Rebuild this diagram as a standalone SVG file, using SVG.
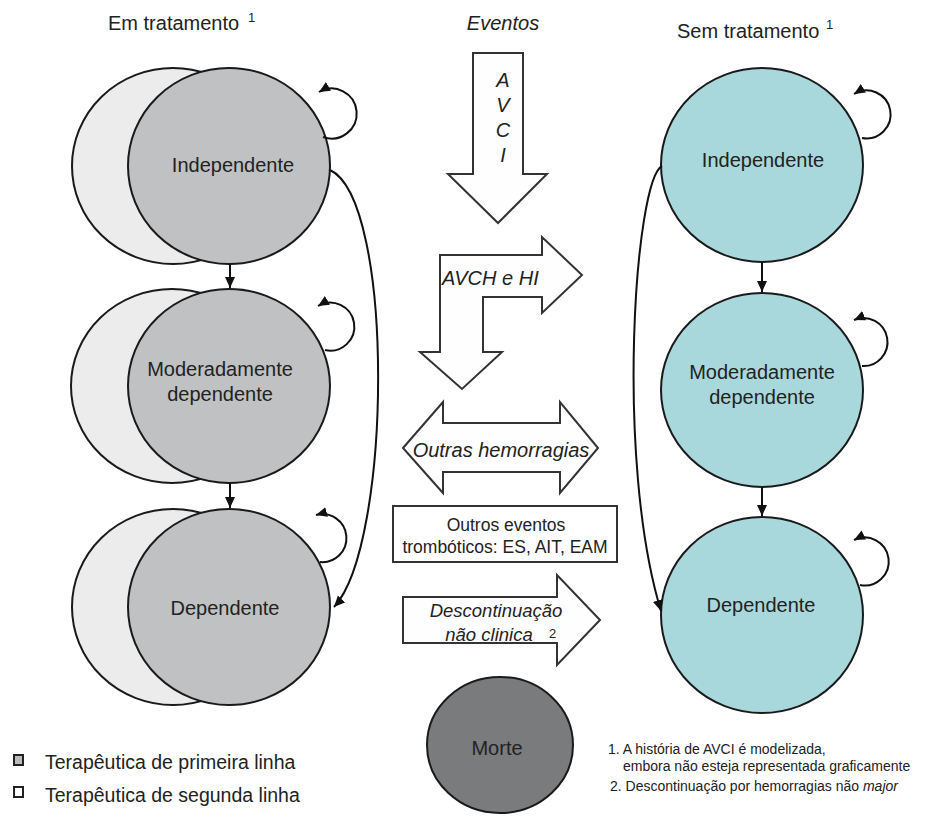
<svg xmlns="http://www.w3.org/2000/svg" width="943" height="822" viewBox="0 0 943 822">
<style>
.t{font-family:"Liberation Sans",Arial,sans-serif;fill:#222;font-size:20px}
.i{font-style:italic}
.c{text-anchor:middle}
.back{fill:#ececec;stroke:#1a1a1a;stroke-width:2}
.front{fill:#c0c1c3;stroke:#1a1a1a;stroke-width:2}
.teal{fill:#a9d8dc;stroke:#1a1a1a;stroke-width:2}
.big{fill:#fefefe;stroke:#333;stroke-width:2;stroke-linejoin:miter}
.con{fill:none;stroke:#111;stroke-width:2}
</style>
<defs>
<marker id="ah" markerUnits="userSpaceOnUse" markerWidth="12" markerHeight="12" viewBox="0 0 12 12" refX="11" refY="6" orient="auto">
<path d="M0,1 L11,6 L0,11 Z" fill="#111"/>
</marker>
</defs>
<rect width="943" height="822" fill="#fff"/>

<text class="t" x="108" y="30">Em tratamento</text>
<text class="t" x="248" y="22" style="font-size:13px">1</text>
<text class="t i c" x="503" y="30">Eventos</text>
<text class="t" x="677" y="38">Sem tratamento</text>
<text class="t" x="826" y="29" style="font-size:13px">1</text>

<g id="left-independente">
<ellipse class="back" cx="173" cy="166" rx="101" ry="98"/>
<ellipse class="front" cx="229" cy="166" rx="101" ry="98"/>
<text class="t c" x="233" y="172">Independente</text>
</g>
<g id="left-moderadamente">
<ellipse class="back" cx="172" cy="386" rx="101" ry="97"/>
<ellipse class="front" cx="229" cy="386" rx="101" ry="97"/>
<text class="t c" x="220" y="376">Moderadamente</text>
<text class="t c" x="220" y="401">dependente</text>
</g>
<g id="left-dependente">
<ellipse class="back" cx="173" cy="607" rx="101" ry="98"/>
<ellipse class="front" cx="229" cy="607" rx="101" ry="98"/>
<text class="t c" x="225" y="615">Dependente</text>
</g>

<g id="right-independente">
<ellipse class="teal" cx="762" cy="165" rx="101" ry="97"/>
<text class="t c" x="763" y="167">Independente</text>
</g>
<g id="right-moderadamente">
<ellipse class="teal" cx="762" cy="390" rx="101" ry="97"/>
<text class="t c" x="762" y="379">Moderadamente</text>
<text class="t c" x="762" y="404">dependente</text>
</g>
<g id="right-dependente">
<ellipse class="teal" cx="762" cy="615" rx="101" ry="98"/>
<text class="t c" x="761" y="612">Dependente</text>
</g>

<g id="evt-avci">
<polygon class="big" points="473,53 523,53 523,174 547,174 498,223 448,174 473,174"/>
<text class="t i c" x="503" y="87">A</text>
<text class="t i c" x="503" y="112">V</text>
<text class="t i c" x="503" y="137">C</text>
<text class="t i c" x="503" y="162">I</text>
</g>
<g id="evt-avch">
<polygon class="big" points="440,255 542,255 542,237 582,275 542,313 542,297 483,297 483,352 502,352 462,389 420,352 440,352"/>
<text class="t i" x="442" y="285">AVCH e HI</text>
</g>
<g id="evt-hemorragias">
<polygon class="big" points="403,448 443,402 443,423 560,423 560,402 598,448 560,493 560,472 443,472 443,493"/>
<text class="t i c" x="501" y="457">Outras hemorragias</text>
</g>
<g id="evt-tromboticos">
<rect x="393" y="506" width="224" height="56" fill="#fff" stroke="#333" stroke-width="2"/>
<text class="t c" x="506" y="531" style="font-size:17.5px">Outros eventos</text>
<text class="t c" x="505" y="553" style="font-size:17.5px">trombóticos: ES, AIT, EAM</text>
</g>
<g id="evt-descontinuacao">
<polygon class="big" points="403,597 557,597 557,575 600,620 557,665 557,643 403,643"/>
<text class="t i c" x="496" y="617" style="font-size:18.5px">Descontinuação</text>
<text class="t i c" x="489" y="641" style="font-size:18.5px">não clinica</text>
<text class="t" x="549" y="638" style="font-size:13px">2</text>
</g>
<g id="morte">
<ellipse cx="500" cy="745" rx="73" ry="68" fill="#7a7b7d" stroke="#1a1a1a" stroke-width="2"/>
<text class="t c" x="497" y="755">Morte</text>
</g>

<g id="connectors">
<line class="con" x1="230" y1="264" x2="230" y2="288" marker-end="url(#ah)"/>
<line class="con" x1="230" y1="483" x2="230" y2="508" marker-end="url(#ah)"/>
<path class="con" d="M 323 137 A 25 25 0 1 0 319 92" marker-end="url(#ah)"/>
<path class="con" d="M 325 350 A 24 24 0 1 0 318 306" marker-end="url(#ah)"/>
<path class="con" d="M 320 562 A 24 24 0 1 0 316 515" marker-end="url(#ah)"/>
<path class="con" d="M 330 170 C 395 200, 392 545, 334 607" marker-end="url(#ah)"/>
<line class="con" x1="762" y1="262" x2="762" y2="292" marker-end="url(#ah)"/>
<line class="con" x1="762" y1="487" x2="762" y2="516" marker-end="url(#ah)"/>
<path class="con" d="M 862 138 A 24 24 0 1 0 854 94" marker-end="url(#ah)"/>
<path class="con" d="M 862 366 A 24 24 0 1 0 854 320" marker-end="url(#ah)"/>
<path class="con" d="M 860 585 A 24 24 0 1 0 854 540" marker-end="url(#ah)"/>
<path class="con" d="M 662 166 C 635 180, 615 460, 661 611" marker-end="url(#ah)"/>
</g>

<g id="legend">
<rect x="14" y="755" width="9" height="10" fill="#bbb" stroke="#222" stroke-width="2"/>
<text class="t" x="45" y="769" style="font-size:19.5px">Terapêutica de primeira linha</text>
<rect x="14" y="787" width="9" height="10" fill="#fff" stroke="#222" stroke-width="2"/>
<text class="t" x="45" y="802" style="font-size:19.5px">Terapêutica de segunda linha</text>
</g>
<g id="footnotes">
<text class="t" x="608" y="754" style="font-size:14px">1. A história de AVCI é modelizada,</text>
<text class="t" x="623" y="771" style="font-size:14px">embora não esteja representada graficamente</text>
<text class="t" x="610" y="791" style="font-size:14px">2. Descontinuação por hemorragias não <tspan class="i">major</tspan></text>
</g>
</svg>
